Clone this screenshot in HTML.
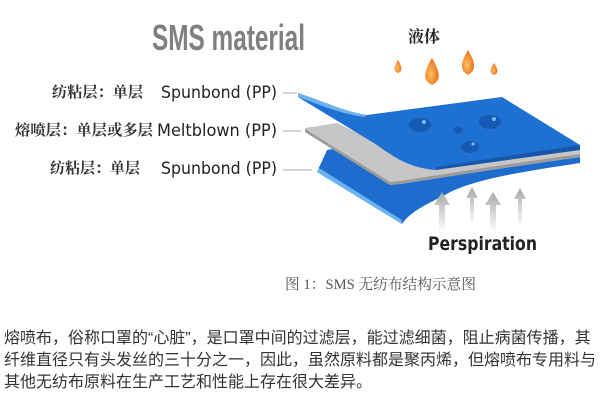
<!DOCTYPE html>
<html><head><meta charset="utf-8"><style>
html,body{margin:0;padding:0;background:#fff;width:610px;height:413px;overflow:hidden}
svg{position:absolute;left:0;top:0}
.p{position:absolute;left:4px;font-family:"Liberation Sans","Noto Sans CJK SC",sans-serif;font-size:16px;color:#333;white-space:nowrap;letter-spacing:0px;line-height:22px}
</style></head><body>
<svg width="610" height="300" viewBox="0 0 610 300">
<defs>
<linearGradient id="ar" x1="0" y1="0" x2="0" y2="1"><stop offset="0" stop-color="#a8a8a8"/><stop offset="1" stop-color="#fff"/></linearGradient>
<radialGradient id="dr" cx="0.4" cy="0.6" r="0.6"><stop offset="0" stop-color="#ffc060"/><stop offset="1" stop-color="#e8701a"/></radialGradient>
</defs>
<text x="152" y="50" font-family="'Liberation Sans Narrow','Liberation Sans',sans-serif" font-size="36" font-weight="bold" fill="#808080" textLength="153" lengthAdjust="spacingAndGlyphs">SMS material</text>
<text x="408" y="42" font-family="'Liberation Serif','Noto Serif CJK SC',serif" font-size="16" font-weight="bold" fill="#222">液体</text>
<g fill="url(#dr)">
<path d="M398 60 C394 67 393 71 398 73 C403 71 402 67 398 60Z"/>
<path d="M432 58 C424 72 422 80 432 85 C442 80 440 72 432 58Z"/>
<path d="M468 50 C461 62 459 70 468 75 C477 70 475 62 468 50Z"/>
<path d="M494 63 C490 69 489 73 494 75 C499 73 498 69 494 63Z"/>
</g>
<g font-family="'Liberation Serif','Noto Serif CJK SC',serif" font-size="15" font-weight="bold" fill="#333">
<text x="52" y="97" textLength="91" lengthAdjust="spacingAndGlyphs">纺粘层：单层</text>
<text x="15" y="135" textLength="138" lengthAdjust="spacingAndGlyphs">熔喷层：单层或多层</text>
<text x="50" y="173" textLength="90" lengthAdjust="spacingAndGlyphs">纺粘层：单层</text>
</g>
<g font-family="'DejaVu Sans','Liberation Sans',sans-serif" font-size="17" fill="#222">
<text x="161" y="98" textLength="116" lengthAdjust="spacingAndGlyphs">Spunbond (PP)</text>
<text x="157" y="136" textLength="120" lengthAdjust="spacingAndGlyphs">Meltblown (PP)</text>
<text x="161" y="174" textLength="116" lengthAdjust="spacingAndGlyphs">Spunbond (PP)</text>
</g>
<g stroke="#aaa" stroke-width="1"><line x1="283" y1="93" x2="297" y2="93"/><line x1="283" y1="131" x2="301" y2="131"/><line x1="283" y1="170" x2="312" y2="170"/></g>
<!-- bottom blue -->
<path d="M317 172 L327 150 L337 148 L390 182 L400 184 L490 170 L580 157 L580 163 C520 172 470 180 445 195 C425 205 410 212 402 224 Z" fill="#1e6cce"/>
<path d="M317 172 L402 224 L402 220 L319 168 Z" fill="#6ab2f0"/>
<!-- gray -->
<path d="M305 128 L337 123 L378 143 C392 154 410 166 436 170 L580 150 L580 157 L490 170 L400 184 L390 185 L305 132 Z" fill="#c6c6c6"/>
<path d="M305 132 L390 185 L400 184 L490 170 L580 157 L580 154 L490 167 L400 181 L390 182 L305 129Z" fill="#9a9a9a"/>
<!-- top blue -->
<path d="M298 93 C320 100 345 112 367 115 L502 97 L580 145 L580 150 C530 156 470 164 436 170 C410 168 395 158 377 145 L298 97 Z" fill="#1e70d2"/>
<path d="M298 93 C320 100 345 112 367 115 L365 117 C340 114 318 104 298 97Z" fill="#6ab2f0"/>
<path d="M580 145 L580 150 L436 170 L436 167 Z" fill="#1857a8"/>
<g fill="#1558b0" opacity="0.9">
<ellipse cx="420" cy="125" rx="11" ry="7"/><ellipse cx="458" cy="130" rx="5" ry="3.5"/>
<ellipse cx="490" cy="122" rx="11" ry="7"/><ellipse cx="470" cy="147" rx="9" ry="6"/>
</g>
<g fill="#7fb8f0"><circle cx="424" cy="122" r="2"/><circle cx="494" cy="119" r="2"/><circle cx="473" cy="144" r="1.6"/></g>
<!-- arrows -->
<g fill="url(#ar)">
<path d="M442 192 L450 205 L445 205 L445 232 L439 232 L439 205 L434 205Z"/>
<path d="M472 187 L478 198 L474 198 L474 225 L470 225 L470 198 L466 198Z"/>
<path d="M493 192 L501 205 L496 205 L496 232 L490 232 L490 205 L485 205Z"/>
<path d="M520 188 L526 199 L522 199 L522 226 L518 226 L518 199 L514 199Z"/>
</g>
<text x="428" y="250" font-family="'DejaVu Sans','Liberation Sans',sans-serif" font-size="19" font-weight="bold" fill="#222" textLength="109" lengthAdjust="spacingAndGlyphs">Perspiration</text>
<text x="285" y="289" font-family="'Liberation Serif','Noto Serif CJK SC',serif" font-size="15" fill="#555" textLength="191" lengthAdjust="spacingAndGlyphs">图 1：SMS 无纺布结构示意图</text>
</svg>
<div class="p" style="top:328px">熔喷布，俗称口罩的“心脏”，是口罩中间的过滤层，能过滤细菌，阻止病菌传播，其</div>
<div class="p" style="top:350px">纤维直径只有头发丝的三十分之一，因此，虽然原料都是聚丙烯，但熔喷布专用料与</div>
<div class="p" style="top:372px">其他无纺布原料在生产工艺和性能上存在很大差异。</div>
</body></html>
